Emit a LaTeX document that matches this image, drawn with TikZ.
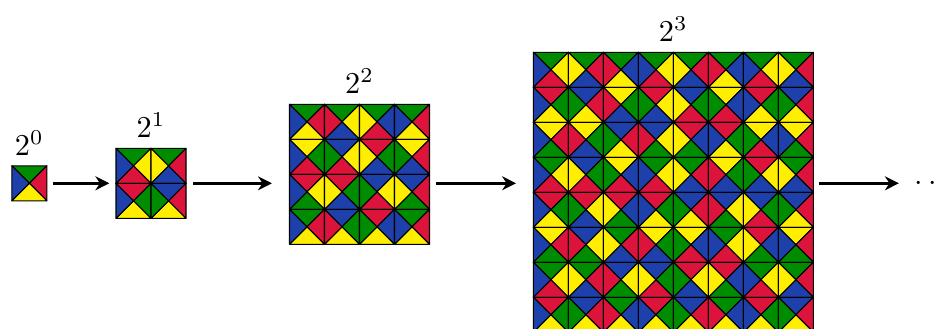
\documentclass[tikz,border=0pt]{standalone}
\usetikzlibrary{arrows.meta,fit}
\definecolor{cG}{RGB}{0,140,0}
\definecolor{cR}{RGB}{220,20,60}
\definecolor{cB}{RGB}{30,64,170}
\definecolor{cY}{RGB}{255,238,0}
\tikzset{
  tri/.style={draw=black,line width=0.35pt,line join=round},
  arr/.style={line width=0.85pt,-{Stealth[length=4.6pt,width=4.6pt,inset=1.5pt]}},
  lab/.style={above,inner sep=3.3pt},
  box/.style={inner sep=0pt,outer sep=0pt}
}
% #1 x, #2 y (top-left, y downward), #3 size, #4..#7 colours top,right,bottom,left
\newcommand\mydrawtile[7]{%
  \begingroup
  \pgfmathsetmacro\xa{#1+#3}%
  \pgfmathsetmacro\ya{#2+#3}%
  \pgfmathsetmacro\xc{#1+#3/2}%
  \pgfmathsetmacro\yc{#2+#3/2}%
  \filldraw[tri,fill=#4] (#1,#2) -- (\xa,#2) -- (\xc,\yc) -- cycle;
  \filldraw[tri,fill=#5] (\xa,#2) -- (\xa,\ya) -- (\xc,\yc) -- cycle;
  \filldraw[tri,fill=#6] (\xa,\ya) -- (#1,\ya) -- (\xc,\yc) -- cycle;
  \filldraw[tri,fill=#7] (#1,\ya) -- (#1,#2) -- (\xc,\yc) -- cycle;
  \endgroup}
% #1 level, #2 x, #3 y, #4 size, #5 t, #6 r, #7 b, #8 l
\newcommand\mywtile[8]{%
  \ifnum#1=0
    \mydrawtile{#2}{#3}{#4}{#5}{#6}{#7}{#8}%
  \else
    \begingroup
    \pgfmathsetmacro\hs{#4/2}%
    \pgfmathsetmacro\xm{#2+#4/2}%
    \pgfmathsetmacro\ym{#3+#4/2}%
    \pgfmathtruncatemacro\lv{#1-1}%
    \edef\mynext{%
      \noexpand\mywtile{\lv}{#2}{#3}{\hs}{#5}{#7}{#6}{#8}%
      \noexpand\mywtile{\lv}{\xm}{#3}{\hs}{#5}{#6}{#8}{#7}%
      \noexpand\mywtile{\lv}{#2}{\ym}{\hs}{#6}{#5}{#7}{#8}%
      \noexpand\mywtile{\lv}{\xm}{\ym}{\hs}{#8}{#6}{#7}{#5}%
    }\mynext
    \endgroup
  \fi}
\begin{document}
\begin{tikzpicture}[x=0.33pt,y=-0.33pt]
\useasboundingbox (0,0) rectangle (941,329);
% squares
\mywtile{0}{11.8}{165.8}{35}{cG}{cR}{cY}{cB}
\mywtile{1}{116}{148.3}{70}{cG}{cR}{cY}{cB}
\mywtile{2}{289.5}{104.3}{140}{cG}{cR}{cY}{cB}
\mywtile{3}{533.3}{52.3}{280}{cG}{cR}{cY}{cB}
\node[box,fit={(11.8,165.8)(46.8,200.8)}] (sq0) {};
\node[box,fit={(116,148.3)(186,218.3)}] (sq1) {};
\node[box,fit={(289.5,104.3)(429.5,244.3)}] (sq2) {};
\node[box,fit={(533.3,52.3)(813.3,332.3)}] (sq3) {};
% labels
\node[lab] (l0) at (sq0.north) {$2^0$};
\node[lab] (l1) at (sq1.north) {$2^1$};
\node[lab] (l2) at (sq2.north) {$2^2$};
\node[lab] (l3) at (sq3.north) {$2^3$};
\node[anchor=base west,inner sep=0pt] (dots) at (914,191) {$\cdots$};
% arrows
\draw[arr,shorten <=2pt,shorten >=2.2pt] (sq0.east) -- (sq0.east -| sq1.west);
\draw[arr,shorten <=2.3pt,shorten >=5.8pt] (sq1.east) -- (sq1.east -| sq2.west);
\draw[arr,shorten <=2.3pt,shorten >=5.7pt] (sq2.east |- sq1.east) -- (sq1.east -| sq3.west);
\draw[arr,shorten <=2pt,shorten >=5pt] (sq3.east |- sq1.east) -- (sq1.east -| dots.west);
\end{tikzpicture}
\end{document}
